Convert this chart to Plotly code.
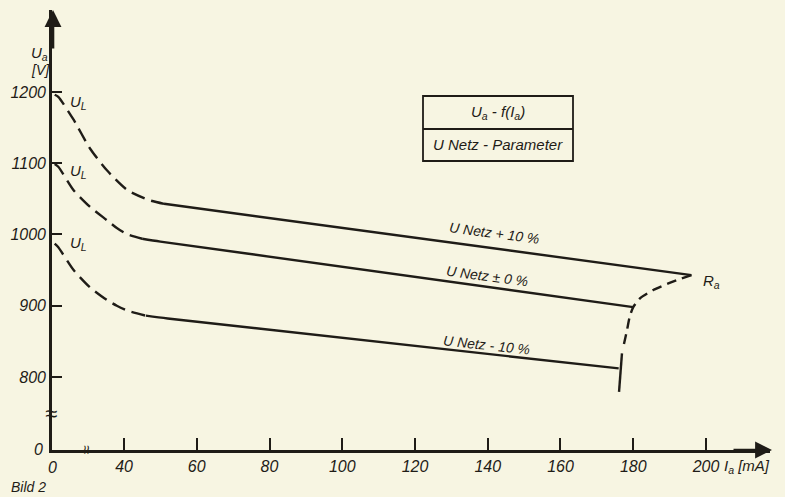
import plotly.graph_objects as go

# ---------------- data ----------------
# currents in mA, voltages in V
plus10_dash_I = [1.5, 3.5, 12, 21, 30.5, 41, 47, 51]
plus10_dash_V = [1196, 1193, 1161, 1121, 1090, 1062, 1048, 1043]
plus10_solid_I = [51, 196]
plus10_solid_V = [1043, 943]

zero_dash_I = [1.5, 3.5, 12, 21, 30.5, 36, 41, 45]
zero_dash_V = [1099, 1095, 1062, 1039, 1020, 1009, 1000, 994]
zero_solid_I = [45, 50, 180]
zero_solid_V = [994, 990, 898]

minus10_dash_I = [1.5, 3.5, 12, 21, 30.5, 36, 41, 46]
minus10_dash_V = [987, 982, 950, 926, 908, 900, 893, 886]
minus10_solid_I = [46, 52, 176]
minus10_solid_V = [886, 882, 812]

ra_dash_I = [196, 190, 185.5, 182, 180, 179, 178.3, 177.3]
ra_dash_V = [943, 932, 922, 911, 898, 884, 866, 843]
ra_solid_I = [176.9, 176.1]
ra_solid_V = [833, 779]

x_ticks = [40, 60, 80, 100, 120, 140, 160, 180, 200]
y_ticks = [800, 900, 1000, 1100, 1200]

curve_labels = ["U Netz + 10 %", "U Netz ± 0 %", "U Netz - 10 %"]

# ---------------- broken axis handling ----------------
X0_DISP = 20.2     # where I = 0 sits on the (broken) current axis
X_MAX = 217.6
Y0_DISP = 697.5    # where U = 0 sits on the (broken) voltage axis
Y_MAX = 1315.0


def xmap(vals):
    return [v if v >= 40 else X0_DISP + v * (40 - X0_DISP) / 40 for v in vals]


INK = "#1f1c17"
BG = "#f7f5e2"
FONT = "Liberation Sans, Arial, sans-serif"

W, H = 785, 497
PL, PR, PT, PB = 52, 770, 10, 450          # plot area in page pixels
ML, MR, MT, MB = PL, W - PR, PT, H - PB
PW, PH = PR - PL, PB - PT


def P(px, py):
    """page pixel -> paper coordinates (for decorations only)"""
    return (px - PL) / PW, (PB - py) / PH


fig = go.Figure()


def add_line(xs, ys, dash):
    fig.add_trace(go.Scatter(x=xmap(xs), y=ys, mode="lines",
                             line=dict(color=INK, width=2.4, dash=dash, shape="spline", smoothing=0.6),
                             hoverinfo="skip", showlegend=False))


DASH = "14px,7px"
add_line(plus10_dash_I, plus10_dash_V, DASH)
add_line(plus10_solid_I, plus10_solid_V, "solid")
add_line(zero_dash_I, zero_dash_V, DASH)
add_line(zero_solid_I, zero_solid_V, "solid")
add_line(minus10_dash_I, minus10_dash_V, DASH)
add_line(minus10_solid_I, minus10_solid_V, "solid")
add_line(ra_dash_I, ra_dash_V, "10px,6px")
add_line(ra_solid_I, ra_solid_V, "solid")

annotations = []


def txt(px, py, text, size=14, anchor="center", angle=0):
    x, y = P(px, py)
    annotations.append(dict(x=x, y=y, xref="paper", yref="paper", text=text, showarrow=False,
                            xanchor=anchor, yanchor="middle", textangle=angle,
                            font=dict(size=size, family=FONT, color=INK, style="italic")))


# U_L markers
for py in (103, 171, 244):
    txt(78, py, "U<sub>L</sub>", 15)

# curve labels (slightly rotated like the lines)
for (px, py, ang), t in zip([(494, 233, 7.5), (487, 276, 7.5), (487, 345, 6)], curve_labels):
    txt(px, py, t, 14, "center", ang)

txt(711, 281, "R<sub>a</sub>", 15)
txt(39, 54, "U<sub>a</sub>", 15)
txt(40, 70, "[V]", 14)
txt(45, 449, "0", 16, "right")
txt(52, 467, "0", 16)
txt(722, 466, "I<sub>a</sub> [mA]", 15, "left")
txt(9, 487, "Bild 2", 14, "left")
txt(498, 112, "U<sub>a</sub> - f(I<sub>a</sub>)", 15)
txt(498, 145, "U Netz - Parameter", 15)

# axis breaks
txt(51, 413, "≈", 22)
txt(87, 449, "≈", 16, "center", 90)

# axis arrows
xa, ya = P(53, 10)
annotations.append(dict(x=xa, y=ya, xref="paper", yref="paper", ax=0, ay=40, text="",
                        showarrow=True, arrowhead=2, arrowsize=1.3, arrowwidth=2.6, arrowcolor=INK))
xa, ya = P(772, 450)
annotations.append(dict(x=xa, y=ya, xref="paper", yref="paper", ax=-40, ay=0, text="",
                        showarrow=True, arrowhead=2, arrowsize=1.3, arrowwidth=2.6, arrowcolor=INK))

# legend box
bx0, by0 = P(423, 96)
bx1, by1 = P(573, 161)
_, bym = P(0, 129)
shapes = [
    dict(type="rect", xref="paper", yref="paper", x0=bx0, x1=bx1, y0=by1, y1=by0,
         line=dict(color=INK, width=1.8)),
    dict(type="line", xref="paper", yref="paper", x0=bx0, x1=bx1, y0=bym, y1=bym,
         line=dict(color=INK, width=1.8)),
]

fig.update_layout(
    width=W, height=H,
    margin=dict(l=ML, r=MR, t=MT, b=MB),
    paper_bgcolor=BG, plot_bgcolor=BG,
    font=dict(family=FONT, color=INK, size=16, style="italic"),
    showlegend=False,
    hovermode=False,
    annotations=annotations,
    shapes=shapes,
    xaxis=dict(range=[X0_DISP, X_MAX], tickvals=x_ticks, ticktext=[str(t) for t in x_ticks],
               ticks="inside", ticklen=12, tickwidth=1.6, tickcolor=INK,
               showline=True, linewidth=2.6, linecolor=INK, showgrid=False, zeroline=False,
               tickfont=dict(size=16, family=FONT, color=INK, style="italic")),
    yaxis=dict(range=[Y0_DISP, Y_MAX], tickvals=y_ticks, ticktext=[str(t) for t in y_ticks],
               ticks="inside", ticklen=10, tickwidth=1.6, tickcolor=INK,
               showline=True, linewidth=2.6, linecolor=INK, showgrid=False, zeroline=False,
               tickfont=dict(size=16, family=FONT, color=INK, style="italic")),
)

# remove the default 8px page margin so the figure fills the window
PAGE_JS = ("document.body.style.margin='0';document.body.style.overflow='hidden';"
           "document.body.style.background='" + BG + "';")
fig.write_html("out.html", post_script=PAGE_JS, config={"displayModeBar": False})
